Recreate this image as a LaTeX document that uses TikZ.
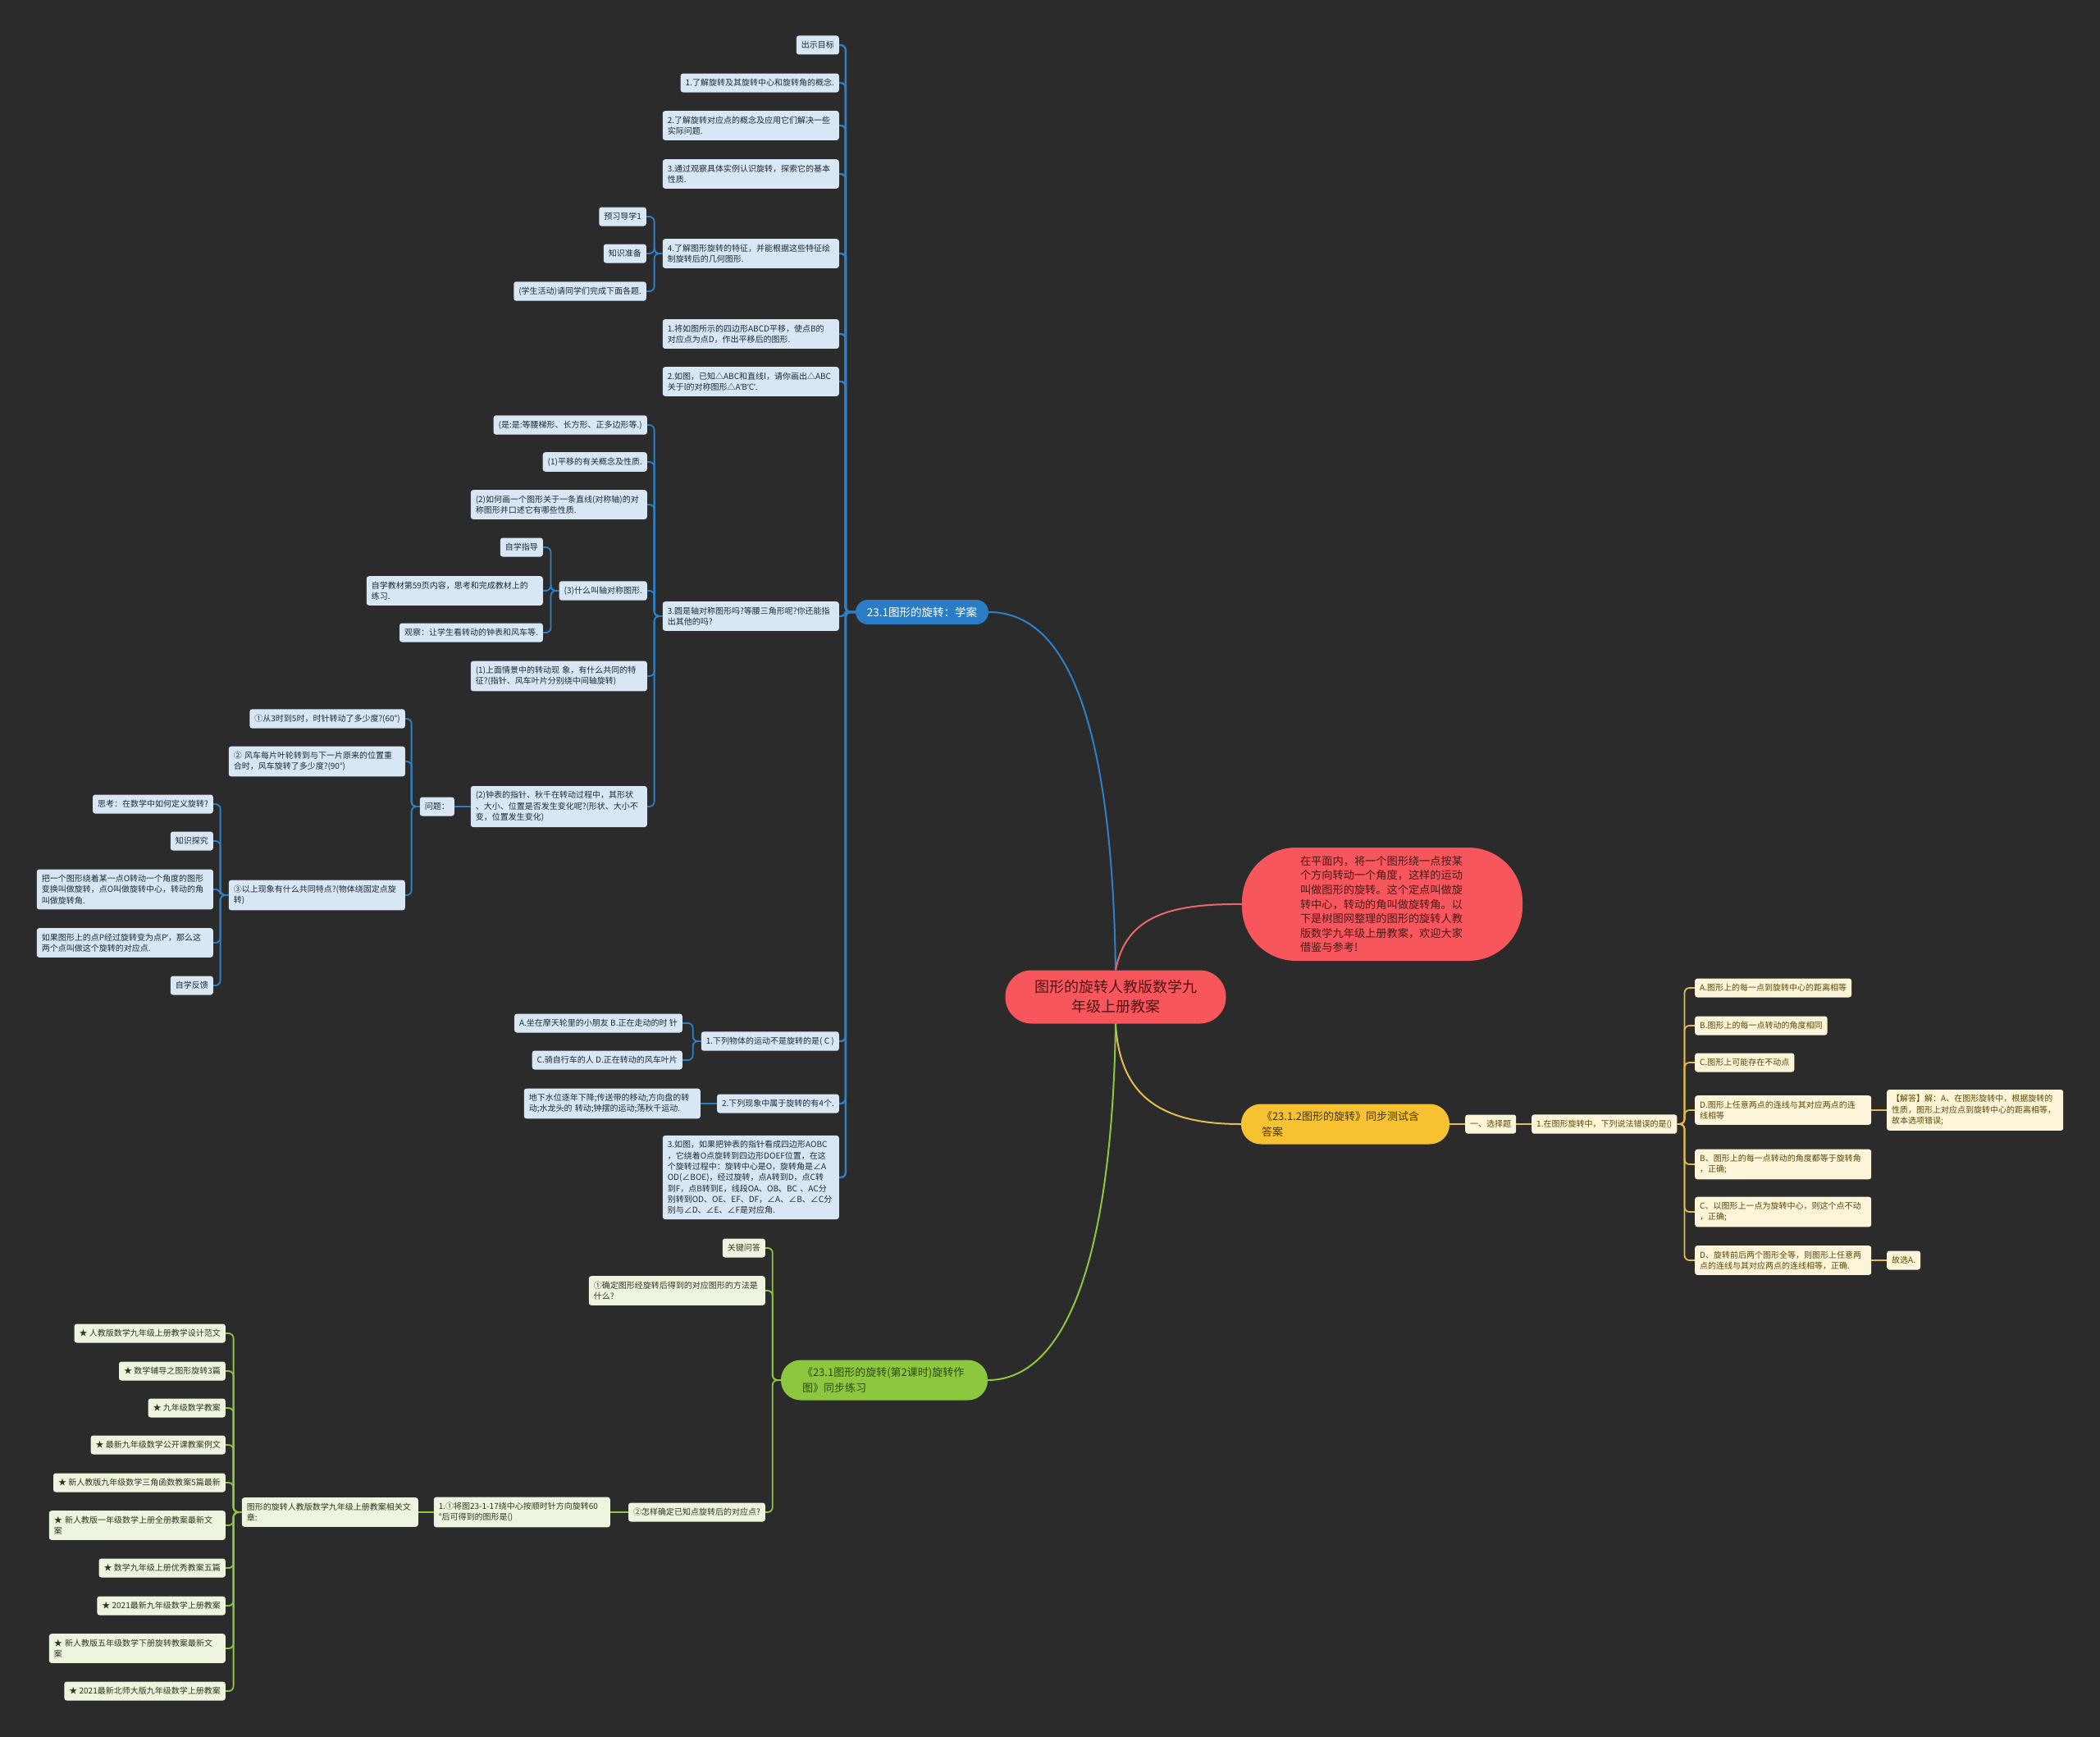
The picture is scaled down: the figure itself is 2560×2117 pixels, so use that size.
\documentclass[tikz,border=0pt]{standalone}
\usepackage{fontspec}
\setmainfont{Noto Sans CJK SC}
\newfontfamily\latinf{Noto Sans}
\newcommand{\apos}{{\latinf ’}}

\definecolor{bgc}{HTML}{2B2B2B}
\definecolor{bline}{HTML}{2F80C8}
\definecolor{bmain}{HTML}{2A7DC4}
\definecolor{bleafc}{HTML}{D7E7F5}
\definecolor{btextc}{HTML}{1E2A36}
\definecolor{rfill}{HTML}{F7575C}
\definecolor{rtext}{HTML}{4D1416}
\definecolor{rline}{HTML}{E8696C}
\definecolor{yfill}{HTML}{F7C231}
\definecolor{ytext}{HTML}{4A3500}
\definecolor{yleafc}{HTML}{FDF5DA}
\definecolor{ytextc}{HTML}{5B4600}
\definecolor{yline}{HTML}{E3BC52}
\definecolor{gfill}{HTML}{8DC63F}
\definecolor{gtext}{HTML}{2D4A0C}
\definecolor{gleafc}{HTML}{EEF5DF}
\definecolor{gtextc}{HTML}{2D3620}
\definecolor{gline}{HTML}{8DC63F}

\begin{document}
\begin{tikzpicture}[
    x=1pt, y=-1pt,
    leaf/.style={rectangle, rounded corners=3pt, inner xsep=6pt, inner ysep=6.5pt, minimum height=23pt, font=\fontsize{10}{13.3}\selectfont},
    wide/.style={text width=203pt, align=left},
    bleaf/.style={leaf, fill=bleafc, text=btextc},
    yleaf/.style={leaf, fill=yleafc, text=ytextc},
    gleaf/.style={leaf, fill=gleafc, text=gtextc},
    rootbox/.style={rectangle, rounded corners=32pt, fill=rfill, text=rtext, minimum width=269pt, minimum height=65pt, align=center, font=\fontsize{18}{24}\selectfont},
    introbox/.style={rectangle, rounded corners=66pt, fill=rfill, text=rtext, minimum width=342pt, minimum height=138pt, text width=200pt, align=left, font=\fontsize{13.2}{17.6}\selectfont},
    bmainbox/.style={rectangle, rounded corners=15pt, fill=bmain, text=white, minimum width=162pt, minimum height=30pt, font=\fontsize{13.5}{16}\selectfont},
    ybranch/.style={rectangle, rounded corners=24pt, fill=yfill, text=ytext, minimum height=49pt, text width=204pt, inner xsep=25pt, align=left, font=\fontsize{13}{19}\selectfont},
    gbranch/.style={rectangle, rounded corners=24pt, fill=gfill, text=gtext, minimum height=49pt, text width=200pt, inner xsep=26pt, align=left, font=\fontsize{13}{19}\selectfont},
    blk/.style={draw=bline, line width=1.8pt, rounded corners=6pt},
    bmk/.style={blk, line width=2.4pt},
    ylk/.style={draw=yline, line width=1.8pt, rounded corners=6pt},
    glk/.style={draw=gline, line width=1.8pt, rounded corners=6pt},
    rlk/.style={line width=2pt}
]
    \useasboundingbox (0,0) rectangle (2560,2117);
    \fill[bgc] (0,0) rectangle (2560,2117);

    % centre
    \node[rootbox] (root) at (1360,1215) {图形的旋转人教版数学九\\年级上册教案};
    \node[introbox] (intro) at (1685,1102) {在平面内，将一个图形绕一点按某\\个方向转动一个角度，这样的运动\\叫做图形的旋转。这个定点叫做旋\\转中心，转动的角叫做旋转角。以\\下是树图网整理的图形的旋转人教\\版数学九年级上册教案，欢迎大家\\借鉴与参考!};

    % blue branch
    \node[bmainbox] (xuean) at (1124,746) {23.1图形的旋转：学案};
    \node[bleaf, anchor=east] (b1) at (1023,55) {出示目标};
    \node[bleaf, anchor=east] (b2) at (1023,101) {1.了解旋转及其旋转中心和旋转角的概念.};
    \node[bleaf, wide, anchor=east] (b3) at (1023,153) {2.了解旋转对应点的概念及应用它们解决一些\\实际问题.};
    \node[bleaf, wide, anchor=east] (b4) at (1023,212) {3.通过观察具体实例认识旋转，探索它的基本\\性质.};
    \node[bleaf, wide, anchor=east] (b5) at (1023,309) {4.了解图形旋转的特征，并能根据这些特征绘\\制旋转后的几何图形.};
    \node[bleaf, wide, anchor=east] (b6) at (1023,407) {1.将如图所示的四边形ABCD平移，使点B的\\对应点为点D，作出平移后的图形.};
    \node[bleaf, wide, anchor=east] (b7) at (1023,465) {2.如图，已知△ABC和直线l，请你画出△ABC\\关于l的对称图形△A\apos B\apos C\apos.};
    \node[bleaf, wide, anchor=east] (b8) at (1023,751) {3.圆是轴对称图形吗?等腰三角形呢?你还能指\\出其他的吗?};
    \node[bleaf, anchor=east] (b9) at (1023,1269) {1.下列物体的运动不是旋转的是( C )};
    \node[bleaf, anchor=east] (b10) at (1023,1345) {2.下列现象中属于旋转的有4个.};
    \node[bleaf, wide, anchor=east] (b11) at (1023,1435) {3.如图，如果把钟表的指针看成四边形AOBC\\，它绕着O点旋转到四边形DOEF位置，在这\\个旋转过程中：旋转中心是O，旋转角是∠A\\OD(∠BOE)，经过旋转，点A转到D，点C转\\到F，点B转到E，线段OA、OB、BC 、AC分\\别转到OD、OE、EF、DF，∠A、∠B、∠C分\\别与∠D、∠E、∠F是对应角.};

    \node[bleaf, anchor=east] (c1) at (788,264) {预习导学1};
    \node[bleaf, anchor=east] (c2) at (788,309) {知识准备};
    \node[bleaf, anchor=east] (c3) at (788,355) {(学生活动)请同学们完成下面各题.};

    \node[bleaf, anchor=east] (d1) at (789,518) {(是:是:等腰梯形、长方形、正多边形等.)};
    \node[bleaf, anchor=east] (d2) at (789,563) {(1)平移的有关概念及性质.};
    \node[bleaf, wide, anchor=east] (d3) at (789,615) {(2)如何画一个图形关于一条直线(对称轴)的对\\称图形并口述它有哪些性质.};
    \node[bleaf, anchor=east] (d4) at (789,720) {(3)什么叫轴对称图形.};
    \node[bleaf, wide, anchor=east] (d5) at (789,824) {(1)上面情景中的转动现 象，有什么共同的特\\征?(指针、风车叶片分别绕中间轴旋转)};
    \node[bleaf, wide, anchor=east] (d6) at (789,983) {(2)钟表的指针、秋千在转动过程中，其形状\\、大小、位置是否发生变化呢?(形状、大小不\\变，位置发生变化)};

    \node[bleaf, anchor=east] (e1) at (662,667) {自学指导};
    \node[bleaf, wide, anchor=east] (e2) at (662,720) {自学教材第59页内容，思考和完成教材上的\\练习.};
    \node[bleaf, anchor=east] (e3) at (662,771) {观察：让学生看转动的钟表和风车等.};

    \node[bleaf, anchor=east] (wenti) at (554,983) {问题：};
    \node[bleaf, anchor=east] (f1) at (494,876) {①从3时到5时，时针转动了多少度?(60°)};
    \node[bleaf, wide, anchor=east] (f2) at (494,928) {② 风车每片叶轮转到与下一片原来的位置重\\合时，风车旋转了多少度?(90°)};
    \node[bleaf, wide, anchor=east] (f3) at (494,1091) {③以上现象有什么共同特点?(物体绕固定点旋\\转)};

    \node[bleaf, anchor=east] (h1) at (260,980) {思考：在数学中如何定义旋转?};
    \node[bleaf, anchor=east] (h2) at (260,1025) {知识探究};
    \node[bleaf, wide, anchor=east] (h3) at (260,1084) {把一个图形绕着某一点O转动一个角度的图形\\变换叫做旋转，点O叫做旋转中心，转动的角\\叫做旋转角.};
    \node[bleaf, wide, anchor=east] (h4) at (260,1149) {如果图形上的点P经过旋转变为点P\apos，那么这\\两个点叫做这个旋转的对应点.};
    \node[bleaf, anchor=east] (h5) at (260,1201) {自学反馈};

    \node[bleaf, anchor=east] (i1) at (832,1247) {A.坐在摩天轮里的小朋友 B.正在走动的时 针};
    \node[bleaf, anchor=east] (i2) at (832,1292) {C.骑自行车的人 D.正在转动的风车叶片};
    \node[bleaf, wide, anchor=east] (j1) at (854,1345) {地下水位逐年下降;传送带的移动;方向盘的转\\动;水龙头的 转动;钟摆的运动;荡秋千运动.};

    % yellow branch
    \node[ybranch] (ceshi) at (1640,1370) {《23.1.2图形的旋转》同步测试含\\答案};
    \node[yleaf, anchor=west] (xuanze) at (1786,1370) {一、选择题};
    \node[yleaf, anchor=west] (ti1) at (1867,1370) {1.在图形旋转中，下列说法错误的是()};
    \node[yleaf, anchor=west] (ya) at (2066,1204) {A.图形上的每一点到旋转中心的距离相等};
    \node[yleaf, anchor=west] (yb) at (2066,1250) {B.图形上的每一点转动的角度相同};
    \node[yleaf, anchor=west] (yc) at (2066,1295) {C.图形上可能存在不动点};
    \node[yleaf, wide, anchor=west] (yd) at (2066,1353) {D.图形上任意两点的连线与其对应两点的连\\线相等};
    \node[yleaf, wide, anchor=west] (ye) at (2066,1419) {B、图形上的每一点转动的角度都等于旋转角\\，正确;};
    \node[yleaf, wide, anchor=west] (yf) at (2066,1477) {C、以图形上一点为旋转中心，则这个点不动\\，正确;};
    \node[yleaf, wide, anchor=west] (yg) at (2066,1536) {D、旋转前后两个图形全等，则图形上任意两\\点的连线与其对应两点的连线相等，正确.};
    \node[yleaf, wide, anchor=west] (jieda) at (2300,1353) {【解答】解：A、在图形旋转中，根据旋转的\\性质，图形上对应点到旋转中心的距离相等，\\故本选项错误;};
    \node[yleaf, anchor=west] (guxuan) at (2300,1536) {故选A.};

    % green branch
    \node[gbranch] (lianxi) at (1078,1682) {《23.1图形的旋转(第2课时)旋转作\\图》同步练习};
    \node[gleaf, anchor=east] (k1) at (933,1521) {关键问答};
    \node[gleaf, wide, anchor=east] (k2) at (933,1573) {①确定图形经旋转后得到的对应图形的方法是\\什么?};
    \node[gleaf, anchor=east] (k3) at (933,1843) {②怎样确定已知点旋转后的对应点?};
    \node[gleaf, wide, anchor=east] (k4) at (744,1843) {1.①将图23-1-17绕中心按顺时针方向旋转60\\°后可得到的图形是()};
    \node[gleaf, wide, anchor=east] (xiangguan) at (510,1843) {图形的旋转人教版数学九年级上册教案相关文\\章:};
    \node[gleaf, anchor=east] (a1) at (275,1625) {★ 人教版数学九年级上册教学设计范文};
    \node[gleaf, anchor=east] (a2) at (275,1671) {★ 数学辅导之图形旋转3篇};
    \node[gleaf, anchor=east] (a3) at (275,1716) {★ 九年级数学教案};
    \node[gleaf, anchor=east] (a4) at (275,1761) {★ 最新九年级数学公开课教案例文};
    \node[gleaf, anchor=east] (a5) at (275,1807) {★ 新人教版九年级数学三角函数教案5篇最新};
    \node[gleaf, wide, anchor=east] (a6) at (275,1859) {★ 新人教版一年级数学上册全册教案最新文\\案};
    \node[gleaf, anchor=east] (a7) at (275,1911) {★ 数学九年级上册优秀教案五篇};
    \node[gleaf, anchor=east] (a8) at (275,1957) {★ 2021最新九年级数学上册教案};
    \node[gleaf, wide, anchor=east] (a9) at (275,2009) {★ 新人教版五年级数学下册旋转教案最新文\\案};
    \node[gleaf, anchor=east] (a10) at (275,2061) {★ 2021最新北师大版九年级数学上册教案};

    % branches from the centre
    \draw[rlk, draw=bline] (root.north) .. controls (1355,850) and (1290,746) .. (xuean.east);
    \draw[rlk, draw=rline] (root.north) .. controls (1372,1120) and (1420,1101) .. (intro.west);
    \draw[rlk, draw=yline] (root.south) .. controls (1365,1340) and (1420,1370) .. (ceshi.west);
    \draw[rlk, draw=gline] (root.south) .. controls (1355,1560) and (1290,1682) .. (lianxi.east);

    % blue links
    \draw[bmk] (xuean.west) -- ++(-12pt,0) |- (b1.east);
    \draw[bmk] (xuean.west) -- ++(-12pt,0) |- (b2.east);
    \draw[bmk] (xuean.west) -- ++(-12pt,0) |- (b3.east);
    \draw[bmk] (xuean.west) -- ++(-12pt,0) |- (b4.east);
    \draw[bmk] (xuean.west) -- ++(-12pt,0) |- (b5.east);
    \draw[bmk] (xuean.west) -- ++(-12pt,0) |- (b6.east);
    \draw[bmk] (xuean.west) -- ++(-12pt,0) |- (b7.east);
    \draw[bmk] (xuean.west) -- ++(-12pt,0) |- (b8.east);
    \draw[bmk] (xuean.west) -- ++(-12pt,0) |- (b9.east);
    \draw[bmk] (xuean.west) -- ++(-12pt,0) |- (b10.east);
    \draw[bmk] (xuean.west) -- ++(-12pt,0) |- (b11.east);
    \draw[blk] (b5.west) -- ++(-10pt,0) |- (c1.east);
    \draw[blk] (b5.west) -- ++(-10pt,0) |- (c2.east);
    \draw[blk] (b5.west) -- ++(-10pt,0) |- (c3.east);
    \draw[blk] (b8.west) -- ++(-10pt,0) |- (d1.east);
    \draw[blk] (b8.west) -- ++(-10pt,0) |- (d2.east);
    \draw[blk] (b8.west) -- ++(-10pt,0) |- (d3.east);
    \draw[blk] (b8.west) -- ++(-10pt,0) |- (d4.east);
    \draw[blk] (b8.west) -- ++(-10pt,0) |- (d5.east);
    \draw[blk] (b8.west) -- ++(-10pt,0) |- (d6.east);
    \draw[blk] (d4.west) -- ++(-10pt,0) |- (e1.east);
    \draw[blk] (d4.west) -- ++(-10pt,0) |- (e2.east);
    \draw[blk] (d4.west) -- ++(-10pt,0) |- (e3.east);
    \draw[blk] (d6.west) -- (wenti.east);
    \draw[blk] (wenti.west) -- ++(-10pt,0) |- (f1.east);
    \draw[blk] (wenti.west) -- ++(-10pt,0) |- (f2.east);
    \draw[blk] (wenti.west) -- ++(-10pt,0) |- (f3.east);
    \draw[blk] (f3.west) -- ++(-10pt,0) |- (h1.east);
    \draw[blk] (f3.west) -- ++(-10pt,0) |- (h2.east);
    \draw[blk] (f3.west) -- ++(-10pt,0) |- (h3.east);
    \draw[blk] (f3.west) -- ++(-10pt,0) |- (h4.east);
    \draw[blk] (f3.west) -- ++(-10pt,0) |- (h5.east);
    \draw[blk] (b9.west) -- ++(-10pt,0) |- (i1.east);
    \draw[blk] (b9.west) -- ++(-10pt,0) |- (i2.east);
    \draw[blk] (b10.west) -- (j1.east);

    % yellow links
    \draw[ylk] (ceshi.east) -- (xuanze.west);
    \draw[ylk] (xuanze.east) -- (ti1.west);
    \draw[ylk] (ti1.east) -- ++(9pt,0) |- (ya.west);
    \draw[ylk] (ti1.east) -- ++(9pt,0) |- (yb.west);
    \draw[ylk] (ti1.east) -- ++(9pt,0) |- (yc.west);
    \draw[ylk] (ti1.east) -- ++(9pt,0) |- (yd.west);
    \draw[ylk] (ti1.east) -- ++(9pt,0) |- (ye.west);
    \draw[ylk] (ti1.east) -- ++(9pt,0) |- (yf.west);
    \draw[ylk] (ti1.east) -- ++(9pt,0) |- (yg.west);
    \draw[ylk] (yd.east) -- (jieda.west);
    \draw[ylk] (yg.east) -- (guxuan.west);

    % green links
    \draw[glk] (lianxi.west) -- ++(-10pt,0) |- (k1.east);
    \draw[glk] (lianxi.west) -- ++(-10pt,0) |- (k2.east);
    \draw[glk] (lianxi.west) -- ++(-10pt,0) |- (k3.east);
    \draw[glk] (k3.west) -- (k4.east);
    \draw[glk] (k4.west) -- (xiangguan.east);
    \draw[glk] (xiangguan.west) -- ++(-10pt,0) |- (a1.east);
    \draw[glk] (xiangguan.west) -- ++(-10pt,0) |- (a2.east);
    \draw[glk] (xiangguan.west) -- ++(-10pt,0) |- (a3.east);
    \draw[glk] (xiangguan.west) -- ++(-10pt,0) |- (a4.east);
    \draw[glk] (xiangguan.west) -- ++(-10pt,0) |- (a5.east);
    \draw[glk] (xiangguan.west) -- ++(-10pt,0) |- (a6.east);
    \draw[glk] (xiangguan.west) -- ++(-10pt,0) |- (a7.east);
    \draw[glk] (xiangguan.west) -- ++(-10pt,0) |- (a8.east);
    \draw[glk] (xiangguan.west) -- ++(-10pt,0) |- (a9.east);
    \draw[glk] (xiangguan.west) -- ++(-10pt,0) |- (a10.east);
\end{tikzpicture}
\end{document}
